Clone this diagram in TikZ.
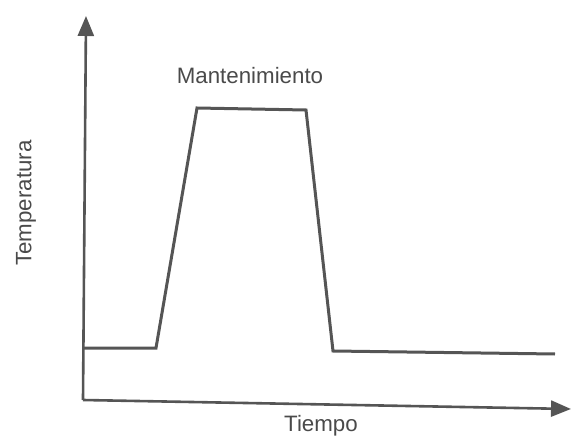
\documentclass[tikz,border=0pt]{standalone}
\usepackage{fontspec}
\setmainfont{Liberation Sans}
\usetikzlibrary{arrows.meta}
\definecolor{ink}{HTML}{555555}
\definecolor{txt}{HTML}{4A4A4A}
\tikzset{
  axisline/.style={draw=ink, line width=2.6pt, -{Triangle[length=20pt,width=16pt]}},
  curveline/.style={draw=ink, line width=3pt, line join=miter},
  lbl/.style={text=txt, font=\fontsize{22.3}{25}\selectfont, inner sep=0pt}
}
\begin{document}
\begin{tikzpicture}[x=1pt,y=-1pt]
\useasboundingbox (0,0) rectangle (571,444);
\coordinate (o) at (83,400);
\coordinate (ytip) at (86,16);
\coordinate (xtip) at (571,409);
\draw[axisline] (o) -- (ytip);
\draw[axisline] (o) -- (xtip);
\coordinate (p0) at (83,348);
\coordinate (p1) at (156,348);
\coordinate (p2) at (197,108);
\coordinate (p3) at (306,110);
\coordinate (p4) at (333,351);
\coordinate (p5) at (555,354);
\draw[curveline] (p0) -- (p1) -- (p2) -- (p3) -- (p4) -- (p5);
\node[lbl] (mant) at (250,76) {Mantenimiento};
\node[lbl, rotate=90] (temp) at (26,203) {Temperatura};
\node[lbl] (tiempo) at (321,426) {Tiempo};
\end{tikzpicture}
\end{document}
